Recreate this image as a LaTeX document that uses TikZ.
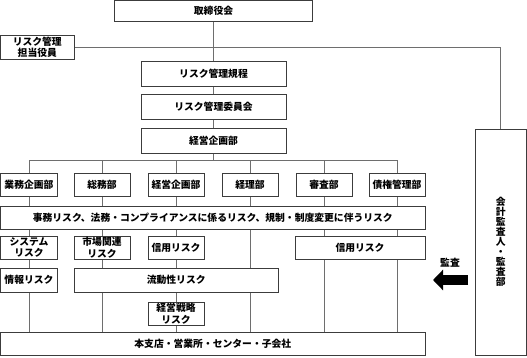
\documentclass[tikz,border=0pt]{standalone}
\usepackage{fontspec}
\setmainfont{Noto Sans CJK JP}
\usepackage{xcolor}
\usepackage{tikz}
\usetikzlibrary{arrows.meta,positioning,calc,backgrounds}
\definecolor{boxline}{RGB}{60,60,60}
\definecolor{busline}{RGB}{110,110,110}
\tikzset{
  orgbox/.style={draw=boxline,fill=white,line width=0.8pt,inner sep=0pt,align=center},
  deptbox/.style={orgbox,minimum width=56pt,minimum height=23pt},
  bus/.style={draw=busline,line width=0.9pt},
  auditarrow/.style={line width=10pt,-{Triangle[length=10pt,width=20pt]}}
}

\begin{document}
\begin{tikzpicture}[x=1pt,y=-1pt,font=\fontsize{9.8}{11.5}\selectfont\bfseries]
\useasboundingbox (0,0) rectangle (527,357);
% top of the hierarchy
\node[orgbox,minimum width=198pt,minimum height=20.5pt] (board) at (213.5,10.8) {取締役会};
\node[orgbox,minimum width=73.5pt,minimum height=24pt] (officer) at (37.3,47) {リスク管理\\担当役員};
\node[orgbox,minimum width=145pt,minimum height=25pt] (rules) at (213.5,73.5) {リスク管理規程};
\node[orgbox,minimum width=145pt,minimum height=25pt] (committee) at (213.5,106.5) {リスク管理委員会};
\node[orgbox,minimum width=145pt,minimum height=25pt] (planning) at (213.5,141) {経営企画部};
\node[orgbox,minimum width=50.5pt,minimum height=226pt,font=\fontsize{9.8}{10}\selectfont\bfseries]
  (auditor) at (500.8,242) {会\\計\\監\\査\\人\\・\\監\\査\\部};
% departments
\node[deptbox,minimum width=57pt] (gyomu) at (29,184.5) {業務企画部};
\node[deptbox] (somu) at (102,184.5) {総務部};
\node[deptbox] (keiei) at (176,184.5) {経営企画部};
\node[deptbox] (keiri) at (250,184.5) {経理部};
\node[deptbox] (shinsa) at (324,184.5) {審査部};
\node[deptbox] (saiken) at (397,184.5) {債権管理部};
% risks
\node[orgbox,minimum width=424.5pt,minimum height=23pt] (opsrisk) at (212.8,217.5)
  {事務リスク、法務・コンプライアンスに係るリスク、規制・制度変更に伴うリスク};
\node[deptbox,minimum width=57pt] (sysrisk) at (29,247.5) {システム\\リスク};
\node[deptbox] (mktrisk) at (102,247.5) {市場関連\\リスク};
\node[deptbox] (crdrisk) at (176,247.5) {信用リスク};
\node[orgbox,minimum width=130pt,minimum height=23pt] (crdrisk2) at (360,247.5) {信用リスク};
\node[orgbox,minimum width=57pt,minimum height=24pt] (inforisk) at (29,280) {情報リスク};
\node[orgbox,minimum width=204.3pt,minimum height=24pt] (liqrisk) at (176.2,280) {流動性リスク};
\node[deptbox] (stratrisk) at (176,313.5) {経営戦略\\リスク};
\node[orgbox,minimum width=424.5pt,minimum height=23pt] (branches) at (212.8,343.5)
  {本支店・営業所・センター・子会社};
% audit
\node (auditlabel) at (450,263) {監査};
\coordinate (arrowtail) at (468,280);
\coordinate (arrowtip) at (433,280);
\draw[auditarrow] (arrowtail) -- (arrowtip);
% connectors behind the boxes
\begin{scope}[on background layer]
  \fill[white] (0,0) rectangle (527,357);
  \draw[bus] (board) -- (rules) (rules) -- (committee) (committee) -- (planning);
  \draw[bus] (officer.east) -| (auditor.north);
  \coordinate (split) at ($(planning.south)+(0,6.5)$);
  \draw[bus] (planning.south) -- (split);
  \draw[bus] (gyomu.north |- split) -- (saiken.north |- split);
  \foreach \d in {gyomu,somu,keiei,keiri,shinsa,saiken}
    \draw[bus] (\d.north |- split) -- (\d.north |- branches.north);
\end{scope}
\end{tikzpicture}
\end{document}
